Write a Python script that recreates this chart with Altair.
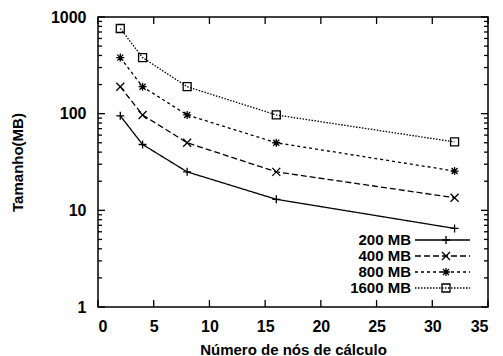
import altair as alt
import pandas as pd

# ---- data ----
nodes = [2, 4, 8, 16, 32]
s200 = [95, 48, 25, 13, 6.5]
s400 = [190, 97, 50, 25, 13.5]
s800 = [380, 190, 97, 50, 25.5]
s1600 = [760, 380, 190, 97, 51]
series_names = ["200 MB", "400 MB", "800 MB", "1600 MB"]
x_ticks = [0, 5, 10, 15, 20, 25, 30, 35]
y_ticks = [1, 10, 100, 1000]
y_minor = [m * 10 ** k for k in range(3) for m in range(2, 10)]

W, H = 390, 290
FONT = "Liberation Sans"

PLUS = "M-1,0L1,0M0,-1L0,1"
CROSS = "M-1,-1L1,1M-1,1L1,-1"
STAR = "M-1,0L1,0M0,-1L0,1M-0.75,-0.75L0.75,0.75M-0.75,0.75L0.75,-0.75"
styles = [
    dict(dash=[1, 0], shape=PLUS),
    dict(dash=[6, 3], shape=CROSS),
    dict(dash=[3, 3], shape=STAR),
    dict(dash=[1.5, 1.5], shape="square"),
]
legend_y = [223, 239, 255, 271]

xs = alt.Scale(domain=[0, 35], nice=False, zero=False)
ys = alt.Scale(type="log", domain=[1, 1000], nice=False)

x_axis = alt.Axis(values=x_ticks, ticks=False, tickSize=0, domain=False, grid=False,
                  labelFont=FONT, labelFontSize=16, labelFontWeight="bold", labelColor="black",
                  labelPadding=11, title="Número de nós de cálculo", titleFont=FONT,
                  titleFontSize=15, titleFontWeight="bold", titleColor="black",
                  titleX=W / 2, titleY=42, titleBaseline="middle", titleAlign="center")
y_axis = alt.Axis(values=y_ticks, format="d", ticks=False, tickSize=0, domain=False, grid=False,
                  labelFont=FONT, labelFontSize=16, labelFontWeight="bold", labelColor="black",
                  labelPadding=12, title="Tamanho(MB)", titleFont=FONT, titleFontSize=15,
                  titleFontWeight="bold", titleColor="black", titleAngle=270,
                  titleX=-81, titleY=H / 2, titleBaseline="middle", titleAlign="center")

all_series = [s200, s400, s800, s1600]
layers = []

for name, vals, st in zip(series_names, all_series, styles):
    df = pd.DataFrame({"x": nodes, "y": vals})
    base = alt.Chart(df).encode(
        x=alt.X("x:Q", scale=xs, axis=x_axis),
        y=alt.Y("y:Q", scale=ys, axis=y_axis),
    )
    layers.append(base.mark_line(color="black", strokeWidth=1.3, strokeDash=st["dash"]))
    layers.append(base.mark_point(shape=st["shape"], size=64, filled=False, color="black",
                                  strokeWidth=1.3, opacity=1))

# ---- inward ticks (gnuplot style) ----
dx = pd.DataFrame({"x": x_ticks})
dy = pd.DataFrame({"y": y_ticks})
dym = pd.DataFrame({"y": y_minor})
rule = dict(color="black", strokeWidth=1.3)
layers.append(alt.Chart(dx).mark_rule(**rule).encode(
    x=alt.X("x:Q", scale=xs, axis=x_axis), y=alt.value(H), y2=alt.value(H - 7)))
layers.append(alt.Chart(dx).mark_rule(**rule).encode(
    x=alt.X("x:Q", scale=xs, axis=x_axis), y=alt.value(0), y2=alt.value(7)))
layers.append(alt.Chart(dy).mark_rule(**rule).encode(
    y=alt.Y("y:Q", scale=ys, axis=y_axis), x=alt.value(0), x2=alt.value(7)))
layers.append(alt.Chart(dy).mark_rule(**rule).encode(
    y=alt.Y("y:Q", scale=ys, axis=y_axis), x=alt.value(W), x2=alt.value(W - 7)))
layers.append(alt.Chart(dym).mark_rule(**rule).encode(
    y=alt.Y("y:Q", scale=ys, axis=y_axis), x=alt.value(0), x2=alt.value(4)))
layers.append(alt.Chart(dym).mark_rule(**rule).encode(
    y=alt.Y("y:Q", scale=ys, axis=y_axis), x=alt.value(W), x2=alt.value(W - 4)))

# ---- frame ----
one = pd.DataFrame({"a": [0]})
layers.append(alt.Chart(one).mark_rect(fillOpacity=0, stroke="black", strokeWidth=1.5).encode(
    x=alt.value(0), x2=alt.value(W), y=alt.value(0), y2=alt.value(H)))

# ---- legend (label left of sample, as in gnuplot) ----
for name, st, ly in zip(series_names, styles, legend_y):
    d = pd.DataFrame({"name": [name]})
    layers.append(alt.Chart(d).mark_text(align="right", baseline="middle", font=FONT,
                                         fontSize=15, fontWeight="bold", color="black").encode(
        text="name:N", x=alt.value(313), y=alt.value(ly)))
    layers.append(alt.Chart(d).mark_rule(color="black", strokeWidth=1.3, strokeDash=st["dash"]).encode(
        x=alt.value(317), x2=alt.value(372), y=alt.value(ly)))
    layers.append(alt.Chart(d).mark_point(shape=st["shape"], size=64, filled=False, color="black",
                                          strokeWidth=1.3, opacity=1).encode(
        x=alt.value(348), y=alt.value(ly)))

chart = alt.layer(*layers).properties(
    width=W, height=H,
    autosize=alt.AutoSizeParams(type="none"),
    padding={"left": 90, "top": 9, "right": 7, "bottom": 49},
    background="white",
).configure_view(stroke=None)

chart.save("out.html", embed_options={"renderer": "svg", "actions": False})
